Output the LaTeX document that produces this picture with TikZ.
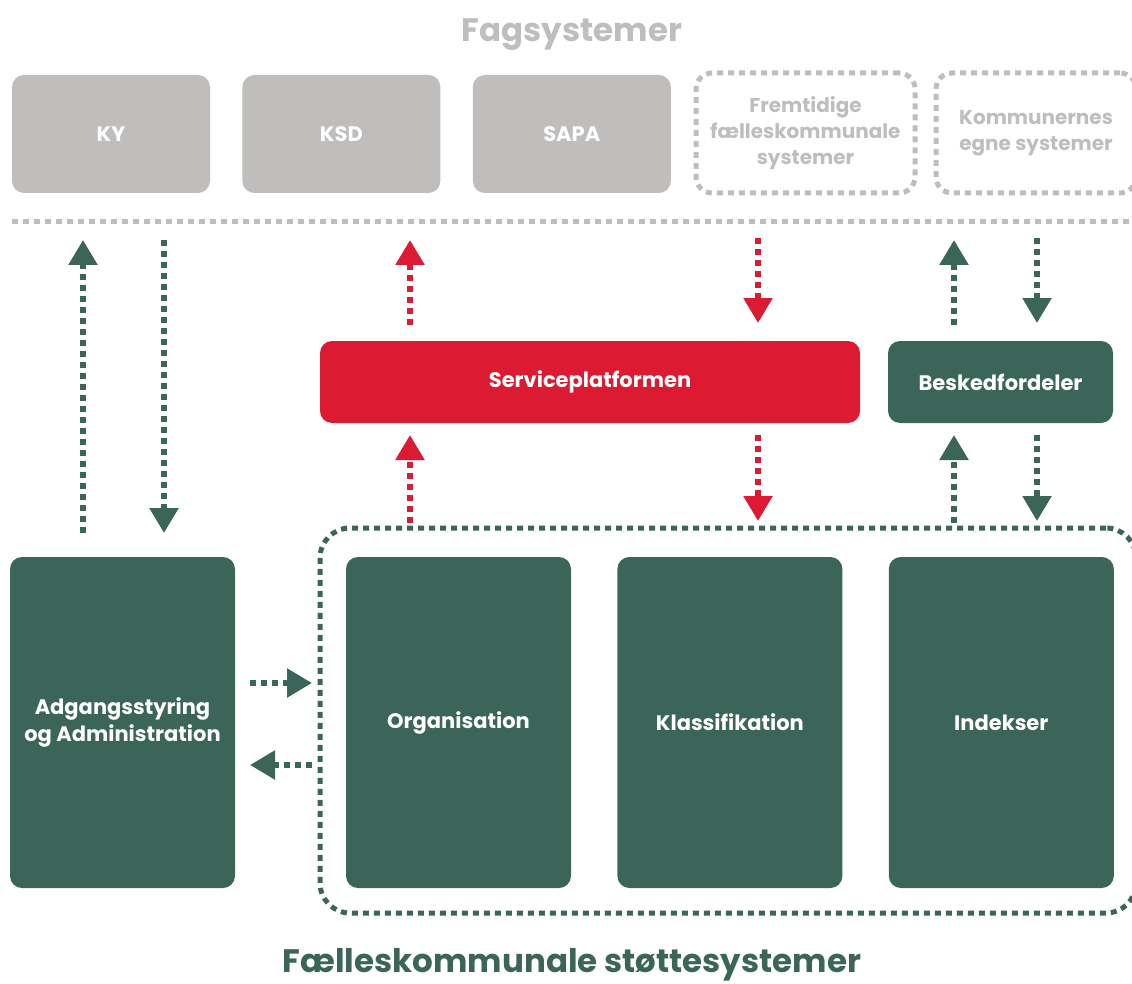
\documentclass[tikz,border=0pt]{standalone}
\usepackage{fontspec}
\setmainfont{Poppins}
\usetikzlibrary{positioning, chains, arrows.meta}
\definecolor{fsgreen}{HTML}{3A6558}
\definecolor{fsred}{HTML}{DC1A32}
\definecolor{fsgray}{HTML}{BFBEBC}

\begin{document}
\begin{tikzpicture}[x=1pt, y=-1pt,
   box/.style = {rounded corners=12pt, inner sep=0pt, align=center, text=white,
                 font=\bfseries\fontsize{21}{27}\selectfont},
   sys/.style = {box, fill=fsgray, minimum width=198pt, minimum height=118pt},
   future/.style = {box, draw=fsgray, text=fsgray, line width=5pt, rounded corners=16pt,
                    dash pattern=on 6pt off 5pt, minimum height=120pt,
                    font=\bfseries\fontsize{20}{26}\selectfont},
   bar/.style = {box, minimum height=82pt},
   comp/.style = {box, fill=fsgreen, minimum width=225pt, minimum height=331pt},
   flow/.style = {line width=5.5pt, dash pattern=on 6pt off 5pt,
                  -{Triangle[width=28pt, length=25pt]}},
   title/.style = {inner sep=0pt, font=\bfseries\fontsize{32.5}{40}\selectfont}]
   \useasboundingbox (0,0) rectangle (1132,984);

   % fagsystemer
   \node[title, text=fsgray] (fag) at (572,35) {Fagsystemer};
   \begin{scope}[start chain = going right, node distance = 32pt]
      \node[sys, on chain] (ky) at (111,134) {KY};
      \node[sys, on chain] (ksd) {KSD};
      \node[sys, on chain] (sapa) {SAPA};
   \end{scope}
   \node[future, minimum width=219pt] (frem) at (805.5,133) {Fremtidige\\fælleskommunale\\systemer};
   \node[future, minimum width=200pt] (egne) at (1036,133) {Kommunernes\\egne systemer};
   \coordinate (gl) at (12,222);
   \coordinate (gr) at (1132,222);
   \draw[fsgray, line width=5pt, dash pattern=on 6pt off 5pt] (gl) -- (gr);

   % platforme
   \node[bar, fill=fsred, minimum width=540pt] (sp) at (590,382) {Serviceplatformen};
   \node[bar, fill=fsgreen, minimum width=225pt] (bf) at (1000.5,382) {Beskedfordeler};

   % stoettesystemer
   \node[comp] (adm) at (122.5,722.5) {Adgangsstyring\\og Administration};
   \begin{scope}[start chain = going right, node distance = 46pt]
      \node[comp, on chain] (org) at (458.5,722.5) {Organisation};
      \node[comp, on chain] (kla) {Klassifikation};
      \node[comp, on chain] (idx) {Indekser};
   \end{scope}
   \node[draw=fsgreen, line width=5pt, dash pattern=on 6pt off 5pt, rounded corners=30pt,
         minimum width=816pt, minimum height=385pt, inner sep=0pt] (fk) at (728,720.5) {};
   \node[title, text=fsgreen, anchor=base] (fktitle) at (572,972) {Fælleskommunale støttesystemer};

   % forbindelser
   \coordinate (a1) at (83,533);   \coordinate (b1) at (83,240);
   \coordinate (a2) at (164,240);  \coordinate (b2) at (164,533);
   \coordinate (a3) at (410,325);  \coordinate (b3) at (410,240);
   \coordinate (a4) at (758,238);  \coordinate (b4) at (758,323);
   \coordinate (a5) at (954,325);  \coordinate (b5) at (954,240);
   \coordinate (a6) at (1037,238); \coordinate (b6) at (1037,323);
   \coordinate (c3) at (410,523);  \coordinate (d3) at (410,435);
   \coordinate (c4) at (758,435);  \coordinate (d4) at (758,521);
   \coordinate (c5) at (954,523);  \coordinate (d5) at (954,435);
   \coordinate (c6) at (1037,435); \coordinate (d6) at (1037,521);
   \coordinate (h1) at (250,683);  \coordinate (k1) at (312,683);
   \coordinate (h2) at (312,765);  \coordinate (k2) at (250,765);

   \draw[flow, fsgreen] (a1) -- (b1);
   \draw[flow, fsgreen] (a2) -- (b2);
   \draw[flow, fsred] (a3) -- (b3);
   \draw[flow, fsred] (a4) -- (b4);
   \draw[flow, fsgreen] (a5) -- (b5);
   \draw[flow, fsgreen] (a6) -- (b6);
   \draw[flow, fsred] (c3) -- (d3);
   \draw[flow, fsred] (c4) -- (d4);
   \draw[flow, fsgreen] (c5) -- (d5);
   \draw[flow, fsgreen] (c6) -- (d6);
   \draw[flow, fsgreen] (h1) -- (k1);
   \draw[flow, fsgreen] (h2) -- (k2);
\end{tikzpicture}
\end{document}
